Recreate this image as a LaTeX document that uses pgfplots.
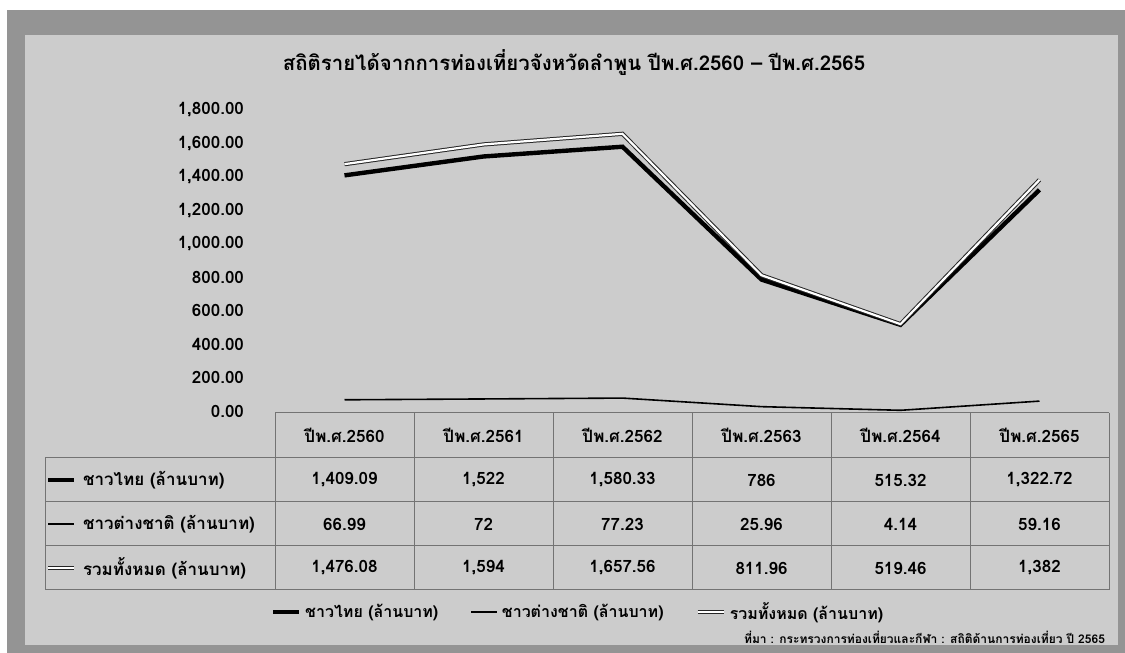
\documentclass[border=0pt]{standalone}
\usepackage{pgfplots}
\pgfplotsset{compat=1.18}
\usepackage{pgfplotstable}
\usepackage{fontspec}
\setmainfont{Loma}[Script=Thai]

% income by year (million baht): Thai visitors, foreign visitors, total
\pgfplotstableread{
x thai foreign total
0 1409.09 66.99 1476.08
1 1522 72 1594
2 1580.33 77.23 1657.56
3 786 25.96 811.96
4 515.32 4.14 519.46
5 1322.72 59.16 1382
}\incometable

\tikzset{
  thailine/.style={black, line width=2.2pt},
  forline/.style={black, line width=0.8pt},
  totline/.style={black!85, line width=0.5pt, double=white, double distance=1.1pt},
}

\begin{document}
\begin{tikzpicture}
% frame and panel
\fill[white] (0,0) rectangle (562.5pt,326.5pt);
\fill[black!42] (3.5pt,0pt) rectangle (562.5pt,321.5pt);
\fill[black!20] (12.5pt,4pt) rectangle (559pt,309pt);

\node[font=\bfseries\fontsize{10.2}{12}\selectfont] at (287pt,295pt)
  {สถิติรายได้จากการท่องเที่ยวจังหวัดลำพูน ปีพ.ศ.2560 -- ปีพ.ศ.2565};

\begin{axis}[
  at={(137.5pt,121pt)}, anchor=south west, scale only axis,
  width=417pt, height=150.5pt,
  xmin=-0.5, xmax=5.5, ymin=0, ymax=1800,
  xtick=\empty,
  ytick={0,200,...,1800},
  scaled y ticks=false,
  axis line style={draw=none},
  major tick length=0pt,
  /pgf/number format/.cd, fixed, fixed zerofill, precision=2, 1000 sep={,}, assume math mode=true,
  /pgfplots/.cd,
  yticklabel style={font=\bfseries\fontsize{8.5}{10}\selectfont, xshift=-12pt},
  clip=false,
  legend columns=3,
  legend style={at={(0.3645,-0.668)}, anchor=center, draw=none, fill=none,
    font=\bfseries\fontsize{8}{10}\selectfont,
    /tikz/every even column/.append style={column sep=14pt}},
  legend image code/.code={\draw[#1] (0pt,0pt) -- (13pt,0pt);},
]
\addplot[thailine] table[x=x, y=thai] {\incometable};
\addlegendentry{ชาวไทย (ล้านบาท)}
\addplot[forline] table[x=x, y=foreign] {\incometable};
\addlegendentry{ชาวต่างชาติ (ล้านบาท)}
\addplot[totline] table[x=x, y=total] {\incometable};
\addlegendentry{รวมทั้งหมด (ล้านบาท)}
\end{axis}

% data table under the plot
\begin{scope}[black!55, line width=0.5pt]
\draw (137.5pt,120pt) -- (554.5pt,120pt);
\foreach \yy in {97.5,75.5,53.5,31.5} \draw (22.5pt,\yy pt) -- (554.5pt,\yy pt);
\foreach \xx in {137.5,207,276.5,346,415.5,485,554.5} \draw (\xx pt,120pt) -- (\xx pt,31.5pt);
\draw (22.5pt,97.5pt) -- (22.5pt,31.5pt);
\end{scope}

\begin{scope}[font=\bfseries\fontsize{8.5}{10}\selectfont]
\foreach \lab [count=\i from 0] in {2560,2561,2562,2563,2564,2565}
  \node at (172.25pt+69.5pt*\i,108.75pt) {ปีพ.ศ.\lab};
\foreach \v [count=\i from 0] in {{1,409.09},{1,522},{1,580.33},786,515.32,{1,322.72}}
  \node at (172.25pt+69.5pt*\i,86.5pt) {\v};
\foreach \v [count=\i from 0] in {66.99,72,77.23,25.96,4.14,59.16}
  \node at (172.25pt+69.5pt*\i,64.5pt) {\v};
\foreach \v [count=\i from 0] in {{1,476.08},{1,594},{1,657.56},811.96,519.46,{1,382}}
  \node at (172.25pt+69.5pt*\i,42.5pt) {\v};
\draw[thailine] (24pt,86.5pt) -- (37pt,86.5pt);
\node[anchor=west] at (38pt,86.5pt) {ชาวไทย (ล้านบาท)};
\draw[forline] (24pt,64.5pt) -- (37pt,64.5pt);
\node[anchor=west] at (38pt,64.5pt) {ชาวต่างชาติ (ล้านบาท)};
\draw[totline] (24pt,42.5pt) -- (37pt,42.5pt);
\node[anchor=west] at (38pt,42.5pt) {รวมทั้งหมด (ล้านบาท)};
\end{scope}

\node[anchor=east, font=\bfseries\fontsize{6}{7}\selectfont] at (556pt,8pt)
  {ที่มา : กระทรวงการท่องเที่ยวและกีฬา : สถิติด้านการท่องเที่ยว ปี 2565};
\end{tikzpicture}
\end{document}
